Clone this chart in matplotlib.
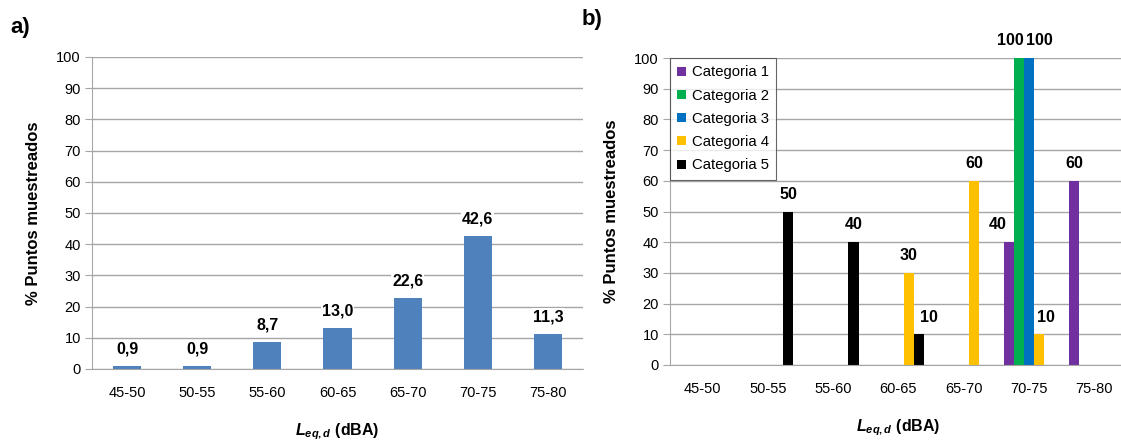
import numpy as np
import matplotlib
matplotlib.use("Agg")
import matplotlib.pyplot as plt

plt.rcParams['font.family'] = ['Liberation Sans', 'DejaVu Sans']
plt.rcParams['mathtext.fontset'] = 'custom'
plt.rcParams['mathtext.rm'] = 'Liberation Sans:bold'
plt.rcParams['mathtext.it'] = 'Liberation Sans:bold:italic'
plt.rcParams['mathtext.bf'] = 'Liberation Sans:bold'

# datos
rangos = ["45-50", "50-55", "55-60", "60-65", "65-70", "70-75", "75-80"]
total = [0.9, 0.9, 8.7, 13.0, 22.6, 42.6, 11.3]

categorias = ["Categoria 1", "Categoria 2", "Categoria 3", "Categoria 4", "Categoria 5"]
cat1 = [0, 0, 0, 0, 0, 40, 60]
cat2 = [0, 0, 0, 0, 0, 100, 0]
cat3 = [0, 0, 0, 0, 0, 100, 0]
cat4 = [0, 0, 0, 30, 60, 10, 0]
cat5 = [0, 50, 40, 10, 0, 0, 0]
colores = ["#7030A0", "#00B050", "#0070C0", "#FFC000", "#000000"]

# etiquetas desplazadas a mano (serie, rango) -> px horizontal
desplaz = {(0, 5): -11, (1, 5): -9, (2, 5): 10, (3, 5): 7, (4, 3): 10}

GRID = "#A6A6A6"
XLABEL = r"$L_{eq,d}$ (dBA)"

W, H = 1121, 441
fig = plt.figure(figsize=(W / 100, H / 100), dpi=100)


def estilo(ax):
    ax.set_ylim(0, 100)
    ax.set_yticks(np.arange(0, 101, 10))
    ax.yaxis.grid(True, color=GRID, linewidth=1, zorder=0)
    ax.set_axisbelow(True)
    for s in ["top", "right"]:
        ax.spines[s].set_visible(False)
    for s in ["left", "bottom"]:
        ax.spines[s].set_color(GRID)
    ax.tick_params(axis="y", length=5, color=GRID, labelsize=10.5, pad=3)
    ax.tick_params(axis="x", length=0, labelsize=10.5, pad=12)
    ax.set_ylabel("% Puntos muestreados", fontsize=12, fontweight="bold", labelpad=11)
    ax.set_xlabel(XLABEL, fontsize=11.5, fontweight="bold", labelpad=16)


def etiqueta(ax, x, y, txt, dx=0):
    ax.annotate(txt, (x, y), xytext=(dx * 0.72, 7), textcoords="offset points",
                ha="center", va="bottom", fontsize=11.5, fontweight="bold",
                zorder=0.8,
                bbox=dict(facecolor="white", edgecolor="none", pad=0.5))


# a)
ax1 = fig.add_axes([92 / W, 1 - 369 / H, 491 / W, 312 / H])
x = np.arange(len(rangos))
ax1.bar(x, total, width=0.4, color="#4F81BD", zorder=1)
ax1.set_xlim(-0.5, len(rangos) - 0.5)
ax1.set_xticks(x)
ax1.set_xticklabels(rangos)
estilo(ax1)
for xi, v in zip(x, total):
    etiqueta(ax1, xi, v, f"{v:.1f}".replace(".", ","))

# b)
ax2 = fig.add_axes([670 / W, 1 - 365 / H, 457 / W, 307 / H])
series = [cat1, cat2, cat3, cat4, cat5]
w = 0.155
for i, (nombre, vals, c) in enumerate(zip(categorias, series, colores)):
    pos = x + (i - 2) * w
    ax2.bar(pos, vals, width=w, color=c, label=nombre, zorder=1)
    for j, (p, v) in enumerate(zip(pos, vals)):
        if v > 0:
            etiqueta(ax2, p, v, f"{v}", desplaz.get((i, j), 0))
ax2.set_xlim(-0.5, len(rangos) - 0.5)
ax2.set_xticks(x)
ax2.set_xticklabels(rangos)
estilo(ax2)
leg = ax2.legend(loc="upper left", bbox_to_anchor=(0.0, 1.0), fontsize=10.7,
                 frameon=True, fancybox=False, borderpad=0.5, labelspacing=0.62,
                 handlelength=0.55, handleheight=0.55, handletextpad=0.4,
                 borderaxespad=0.0)
leg.get_frame().set_edgecolor("#404040")
leg.get_frame().set_linewidth(0.8)
leg.set_zorder(5)

fig.text(10 / W, 1 - 28 / H, "a)", fontsize=16, fontweight="bold", va="center", ha="left")
fig.text(582 / W, 1 - 20 / H, "b)", fontsize=16, fontweight="bold", va="center", ha="left")

fig.savefig("out.png", dpi=100)
